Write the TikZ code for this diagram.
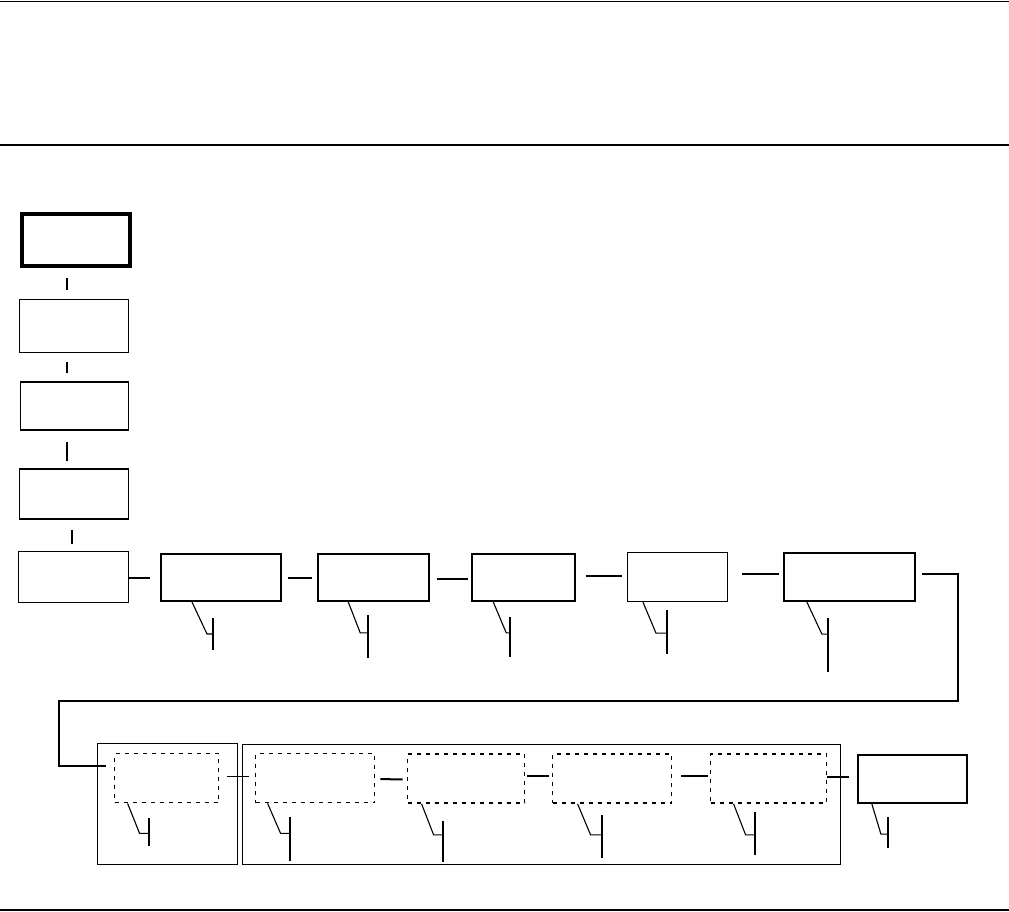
\documentclass[tikz,border=0pt]{standalone}
\usepackage{tikz}
\usetikzlibrary{calc}

\begin{document}
\begin{tikzpicture}[x=1pt,y=-1pt,
    box/.style={draw,line width=#1,inner sep=0pt,outer sep=0.5*#1,minimum height=49pt},
    box/.default=1.2pt,
    dbox/.style={box=1.8pt,dash pattern=on 4pt off 5pt,minimum height=49pt},
    link/.style={line width=#1},
    link/.default=2pt,
    lead/.style={line width=1.1pt},
    bar/.style={line width=#1},
    bar/.default=2pt]
    \useasboundingbox (0,0) rectangle (1009,911);
    % rules
    \draw[line width=1pt] (0,1) -- (1009,1);
    \draw[line width=2.6pt] (0,145) -- (1009,145);
    \draw[line width=1.4pt] (0,910) -- (1009,910);
    % left column
    \node[box=4pt,minimum width=108pt,minimum height=52pt] (b1) at (76,240) {};
    \node[box,minimum width=109pt,minimum height=53pt] (b2) at (74,326) {};
    \node[box=1.6pt,minimum width=108pt,minimum height=48pt] (b3) at (74.5,406) {};
    \node[box=1.6pt,minimum width=109pt,minimum height=50pt] (b4) at (74,494) {};
    \node[box,minimum width=110pt,minimum height=51pt] (b5) at (73.5,577) {};
    \draw[link=1.2pt,shorten <=10pt,shorten >=9pt] ([xshift=-9pt]b1.south) -- ([xshift=-7pt]b2.north);
    \draw[link=1.2pt,shorten <=9pt,shorten >=8pt] ([xshift=-7pt]b2.south) -- ([xshift=-7.5pt]b3.north);
    \draw[link=1.2pt,shorten <=11pt,shorten >=7pt] ([xshift=-7.5pt]b3.south) -- ([xshift=-7pt]b4.north);
    \draw[link,shorten <=10pt,shorten >=7pt] ([xshift=-2pt]b4.south) -- ([xshift=-1.5pt]b5.north);
    % upper row
    \node[box=2pt,minimum width=120pt,minimum height=47pt] (b6) at (221,577.5) {};
    \node[box=1.6pt,minimum width=111pt,minimum height=47pt] (b7) at (373.5,577.5) {};
    \node[box=1.6pt,minimum width=103pt,minimum height=47pt] (b8) at (523.5,577.5) {};
    \node[box=1.1pt,minimum width=100pt,minimum height=49pt] (b9) at (677.5,577) {};
    \node[box=2.2pt,minimum width=131pt,minimum height=48pt] (b10) at (849.5,577) {};
    \draw[link,shorten >=10pt] ([yshift=-1pt]b5.east) -- ([yshift=-0.5pt]b6.west);
    \draw[link,shorten <=6pt,shorten >=5pt] ([yshift=-0.5pt]b6.east) -- ([yshift=-0.5pt]b7.west);
    \draw[link=2.5pt,shorten <=7pt,shorten >=3pt] ([yshift=-1.5pt]b7.east) -- ([yshift=-1.5pt]b8.west);
    \draw[link=1.1pt,shorten <=10pt,shorten >=5pt] ([yshift=1.5pt]b8.east) -- ([yshift=1pt]b9.west);
    \draw[link,shorten <=14pt,shorten >=4pt] ([yshift=3pt]b9.east) -- ([yshift=3pt]b10.west);
    % callouts, upper row
    \draw[lead] ([xshift=32pt]b6.south west) -- ++(15,32) -- ++(6,0);
    \draw[bar] (213,618) -- (213,650);
    \draw[lead] ([xshift=31pt]b7.south west) -- ++(12,31) -- ++(8,0);
    \draw[bar=1.2pt] (368,615) -- (368,658);
    \draw[lead] ([xshift=22pt]b8.south west) -- ++(13,31) -- ++(4,0);
    \draw[bar=2.5pt] (510,617) -- (510,657);
    \draw[lead] ([xshift=16pt]b9.south west) -- ++(13,31) -- ++(11,0);
    \draw[bar] (667,610) -- (667,654);
    \draw[lead] ([xshift=24pt]b10.south west) -- ++(15,32) -- ++(6,0);
    \draw[bar] (828,618) -- (828,672);
    % lower row
    \node[box=1pt,minimum width=140pt,minimum height=121pt] (ga) at (167.5,804) {};
    \node[box=1pt,minimum width=598pt,minimum height=120pt] (gb) at (541.5,804.5) {};
    \node[dbox,minimum width=104pt] (d1) at (166.5,778) {};
    \node[dbox,minimum width=119pt] (d2) at (315,778) {};
    \node[dbox,minimum width=117pt] (d3) at (466,778.5) {};
    \node[dbox,minimum width=119pt] (d4) at (612,778.5) {};
    \node[dbox,line width=1.3pt,minimum width=116pt] (d5) at (768.5,778.5) {};
    \node[box=2.2pt,minimum width=109pt,minimum height=48pt] (bf) at (912.5,779) {};
    \coordinate (t1) at (958,701);
    \coordinate (t2) at (59,701);
    \draw[link=1.3pt,shorten <=6pt,shorten >=8pt] ([yshift=3pt]b10.east) -| (t1) -- (t2) |- ([yshift=12pt]d1.west);
    \draw[link=1pt,shorten <=8pt,shorten >=6pt] ([yshift=2pt]d1.east) -- ([yshift=2pt]d2.west);
    \draw[link,shorten <=5pt,shorten >=4pt] ([yshift=-1pt]d2.east) -- ([yshift=-1pt]d3.west);
    \draw[link,shorten <=2pt,shorten >=3pt] ([yshift=2.5pt]d3.east) -- ([yshift=2.5pt]d4.west);
    \draw[link,shorten <=9pt,shorten >=2pt] ([yshift=2.5pt]d4.east) -- ([yshift=2.5pt]d5.west);
    \draw[link,shorten >=8pt] ([yshift=1.5pt]d5.east) -- ([yshift=2pt]bf.west);
    % callouts, lower row
    \draw[lead] ([xshift=14pt]d1.south west) -- ++(12,30) -- ++(9,0);
    \draw[bar=1.2pt] (149,818) -- (149,846);
    \draw[lead] ([xshift=13pt]d2.south west) -- ++(13,30) -- ++(9,0);
    \draw[bar] (290,817) -- (290,861);
    \draw[lead] ([xshift=15pt]d3.south west) -- ++(12,31) -- ++(9,0);
    \draw[bar] (443,821) -- (443,862);
    \draw[lead] ([xshift=26pt]d4.south west) -- ++(13,31) -- ++(11,0);
    \draw[bar=1.5pt] (602,815) -- (602,858);
    \draw[lead] ([xshift=24pt]d5.south west) -- ++(12,31) -- ++(9,0);
    \draw[bar=1.5pt] (755,812) -- (755,855);
    \draw[lead] ([xshift=15pt]bf.south west) -- ++(9,30) -- ++(7,0);
    \draw[bar=1.2pt] (888,817) -- (888,848);
\end{tikzpicture}
\end{document}
